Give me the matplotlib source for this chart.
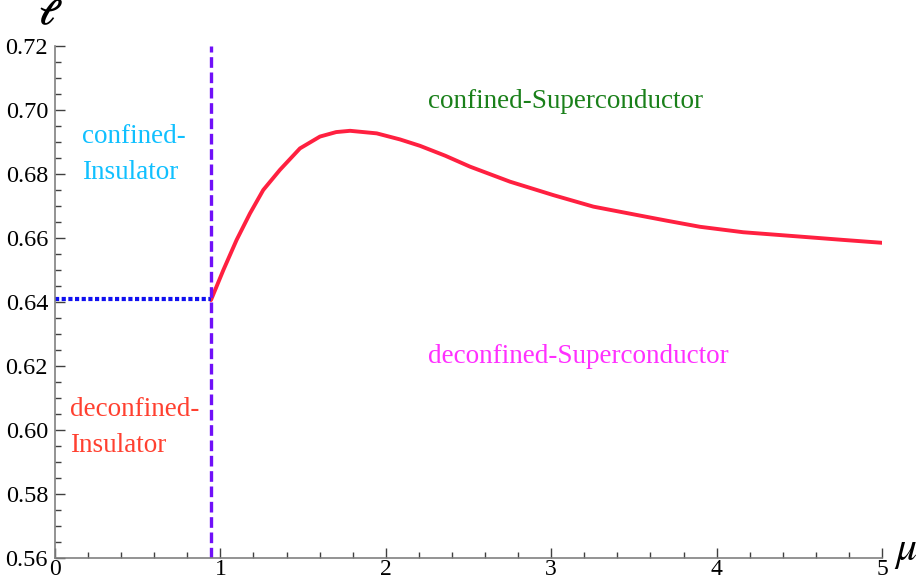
import numpy as np
import matplotlib
matplotlib.use("Agg")
import matplotlib.pyplot as plt
from matplotlib.ticker import MultipleLocator

plt.rcParams['font.family'] = ['Liberation Serif', 'DejaVu Serif']
plt.rcParams['mathtext.fontset'] = 'stix'

# transition point
mu_c = 0.943
l_c = 0.641

# phase boundary curve
mu = [0.943, 1.018, 1.098, 1.179, 1.259, 1.360, 1.481, 1.602, 1.700, 1.784, 1.945,
      2.086, 2.207, 2.360, 2.509, 2.751, 3.013, 3.255, 3.517, 3.700, 3.900, 4.161,
      4.464, 4.766, 5.0]
ell = [0.6406, 0.650, 0.6594, 0.6677, 0.675, 0.6813, 0.688, 0.6917, 0.6931, 0.6935, 0.6927,
       0.6908, 0.6888, 0.6857, 0.6823, 0.6776, 0.6734, 0.6698, 0.6672, 0.6654, 0.6635, 0.6618,
       0.6606, 0.6594, 0.6585]

fig = plt.figure(figsize=(9.22, 5.84), dpi=100)
ax = fig.add_axes([55/922, 26/584, 827/922, 512/584])

ax.plot(mu, ell, color='#FF2040', lw=2.8, solid_capstyle='round', solid_joinstyle='round')
ax.plot([0, mu_c], [l_c, l_c], color='#1010F0', lw=3, linestyle=(0, (1.0, 0.6)))
ax.plot([mu_c, mu_c], [0.56, 0.72], color='#7010F8', lw=2.4, linestyle=(0, (3.2, 1.4)))

ax.set_xlim(0, 5)
ax.set_ylim(0.56, 0.72)

for s in ['top', 'right']:
    ax.spines[s].set_visible(False)
for s in ['left', 'bottom']:
    ax.spines[s].set_color('#808080')
    ax.spines[s].set_linewidth(1.2)

ax.xaxis.set_major_locator(MultipleLocator(1))
ax.xaxis.set_minor_locator(MultipleLocator(0.2))
ax.yaxis.set_major_locator(MultipleLocator(0.02))
ax.yaxis.set_minor_locator(MultipleLocator(0.005))
ax.yaxis.set_major_formatter(plt.FormatStrFormatter('%.2f'))
ax.tick_params(which='major', direction='in', length=7, width=1, color='#404040', labelsize=17.5)
ax.tick_params(which='minor', direction='in', length=4, width=1, color='#404040')
ax.tick_params(axis='y', which='major', pad=5)
ax.tick_params(axis='x', which='major', pad=1, labelsize=17)

fs = 19.5
ax.text(0.163, 0.6861, 'confined-\nInsulator', color='#10C0FF', fontsize=fs,
        ha='left', va='center', linespacing=1.6)
ax.text(0.09, 0.6008, 'deconfined-\nInsulator', color='#FF4030', fontsize=fs,
        ha='left', va='center', linespacing=1.6)
ax.text(2.255, 0.7028, 'confined-Superconductor', color='#1A801A', fontsize=fs,
        ha='left', va='center')
ax.text(2.255, 0.6231, 'deconfined-Superconductor', color='#FF30FF', fontsize=fs,
        ha='left', va='center')

fig.text(50/922, 1 - 16/584, r'$\boldsymbol{\ell}$', fontsize=26, ha='center', va='center')
fig.text(906/922, 1 - 552/584, r'$\mu$', fontsize=30, ha='center', va='center')

fig.savefig('out.png', dpi=100)
